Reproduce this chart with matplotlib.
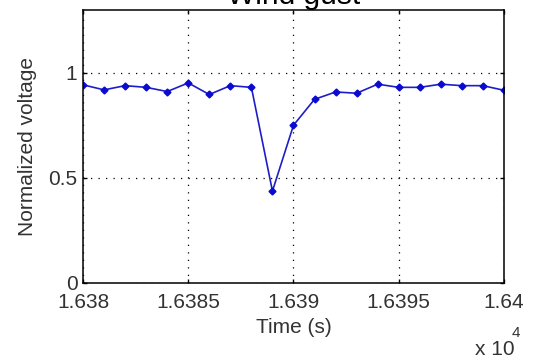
import matplotlib
matplotlib.use("Agg")
import matplotlib.pyplot as plt
from matplotlib.ticker import FuncFormatter

# --- data ---
time_s = list(range(16380, 16401))
voltage = [0.942, 0.918, 0.938, 0.930, 0.910, 0.951, 0.896, 0.938, 0.930,
           0.437, 0.750, 0.873, 0.908, 0.902, 0.945, 0.930, 0.930, 0.945,
           0.938, 0.938, 0.916]
x_ticks = [16380, 16385, 16390, 16395, 16400]
y_ticks = [0, 0.5, 1]

plt.rcParams['font.family'] = ['Liberation Sans', 'DejaVu Sans']
txt_col = '#333333'

fig = plt.figure(figsize=(5.49, 3.6), dpi=100)
ax = fig.add_axes([0.1512, 0.2139, 0.7668, 0.7597])

ax.plot(time_s, voltage, color='#1e1ec8', lw=1.2, marker='D', ms=3.5,
        mfc='#0a0ad0', mec='#0a0ad0')

ax.set_xlim(16380, 16400)
ax.set_ylim(0, 1.3)
ax.set_xticks(x_ticks)
ax.set_yticks(y_ticks)
ax.xaxis.set_major_formatter(FuncFormatter(lambda v, p: f"{v / 1e4:g}"))
ax.yaxis.set_major_formatter(FuncFormatter(lambda v, p: f"{v:g}"))

ax.grid(True, color='black', linestyle=(0, (1, 5)), linewidth=0.9)
ax.tick_params(direction='in', length=3, width=1, top=True, right=True,
               labelsize=15, labelcolor=txt_col)
ax.tick_params(axis='x', pad=7)
ax.tick_params(axis='y', pad=4)
for s in ax.spines.values():
    s.set_linewidth(1.1)

ax.set_xlabel("Time (s)", fontsize=15, color=txt_col)
ax.set_ylabel("Normalized voltage", fontsize=15, color=txt_col)
ax.xaxis.set_label_coords(0.5, -0.128)
ax.yaxis.set_label_coords(-0.11, 0.5)
ax.set_title("Wind gust", fontsize=21.5, pad=4)

# MATLAB style exponent label
fig.text(475 / 549, 1 - 355 / 360, "x 10", fontsize=15, color=txt_col,
         va='baseline', ha='left')
fig.text(512 / 549, 1 - 337 / 360, "4", fontsize=11, color=txt_col,
         va='baseline', ha='left')

fig.savefig("out.png", dpi=100, facecolor='white')
